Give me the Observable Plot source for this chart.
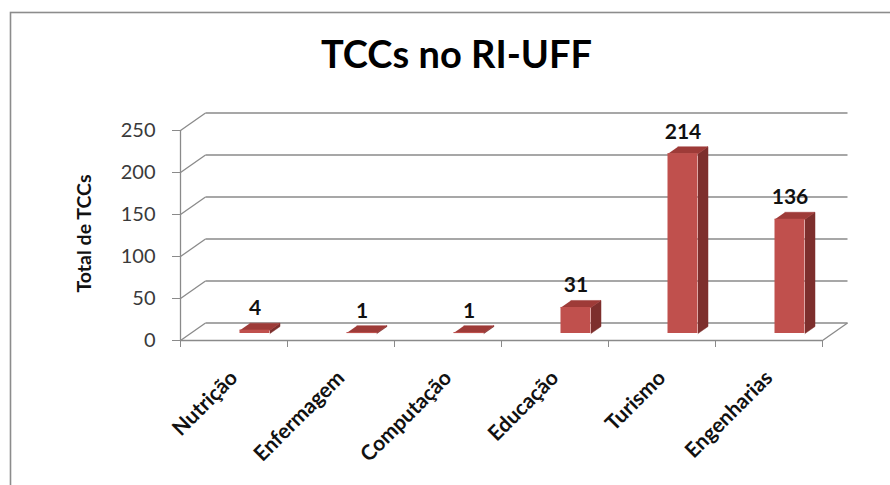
<!DOCTYPE html>
<html>
<head>
<meta charset="utf-8">
<script src="https://cdn.jsdelivr.net/npm/d3@7"></script>
<script src="https://cdn.jsdelivr.net/npm/@observablehq/plot@0.6"></script>
<style>
  html, body { margin: 0; padding: 0; background: #fff; }
  #chart svg { display: block; overflow: hidden; }
</style>
</head>
<body>
<div id="chart"></div>
<script>
// ---- data ----
const categories = ["Nutrição", "Enfermagem", "Computação", "Educação", "Turismo", "Engenharias"];
const values = [4, 1, 1, 31, 214, 136];
const yTicks = [0, 50, 100, 150, 200, 250];
const title = "TCCs no RI-UFF";
const yLabel = "Total de TCCs";

// ---- layout (pixels) ----
const W = 890, H = 485;
const mL = 180, mR = 68, mT = 130, mB = 145;
const n = categories.length;
const yMax = 250;
const pxX = (W - mL - mR) / n;         // px per x unit
const pxY = (H - mT - mB) / yMax;      // px per y unit
const ux = p => p / pxX;               // pixel -> x data units
const uy = p => p / pxY;               // pixel -> y data units

const wallDx = ux(25), wallDy = uy(17.5);  // back-wall depth
const faceL = ux(6), faceR = ux(36);       // bar front face relative to band center
const barDx = ux(10), barDy = uy(7);       // bar depth
const barLift = -7;                        // bar base above front floor edge (px)

const data = categories.map((c, i) => ({i, c, v: values[i]}));

const sidePts = data.flatMap(d => {
  const xr = d.i + 0.5 + faceR;
  return [
    {id: d.i, x: xr, y: 0},
    {id: d.i, x: xr + barDx, y: barDy},
    {id: d.i, x: xr + barDx, y: d.v + barDy},
    {id: d.i, x: xr, y: d.v}
  ];
});
const topPts = data.flatMap(d => {
  const xl = d.i + 0.5 + faceL, xr = d.i + 0.5 + faceR;
  return [
    {id: d.i, x: xl, y: d.v},
    {id: d.i, x: xr, y: d.v},
    {id: d.i, x: xr + barDx, y: d.v + barDy},
    {id: d.i, x: xl + barDx, y: d.v + barDy}
  ];
});

const grid = "#8a8a8a";
const font = "Lato, 'Open Sans', sans-serif";

const plot = Plot.plot({
  width: W, height: H,
  marginLeft: mL, marginRight: mR, marginTop: mT, marginBottom: mB,
  style: {fontFamily: font, background: "#fff", overflow: "hidden"},
  x: {type: "linear", domain: [0, n], axis: null},
  y: {type: "linear", domain: [0, yMax], axis: null},
  marks: [
    // chart border (top and left visible)
    Plot.frame({stroke: "#8c8c8c", strokeWidth: 1.6,
      insetTop: 12 - mT, insetLeft: 10 - mL, insetRight: -(mR + 20), insetBottom: -(mB + 20)}),
    // left wall diagonals
    Plot.link(yTicks, {x1: 0, y1: d => d, x2: wallDx, y2: d => d + wallDy, stroke: grid, strokeWidth: 1.3}),
    // back wall gridlines
    Plot.link(yTicks, {x1: wallDx, x2: n + wallDx, y1: d => d + wallDy, y2: d => d + wallDy, stroke: grid, strokeWidth: 1.3}),
    // floor right edge
    Plot.link([0], {x1: n, y1: 0, x2: n + wallDx, y2: wallDy, stroke: grid, strokeWidth: 1.3}),
    // front axes
    Plot.ruleX([0], {y1: 0, y2: yMax, stroke: grid, strokeWidth: 1.3}),
    Plot.ruleY([0], {x1: 0, x2: n, stroke: grid, strokeWidth: 1.3}),
    Plot.axisY(yTicks, {tickSize: 8, tickPadding: 17, fontSize: 20, stroke: grid, fill: "#3a3a3a", label: null}),
    Plot.axisX(d3.range(n + 1), {tickSize: 7, tickFormat: () => "", stroke: grid, label: null}),
    // bars
    Plot.line(sidePts, {x: "x", y: "y", z: "id", fill: "#7d2f2d", stroke: "#7d2f2d", strokeWidth: 0.5, dy: barLift}),
    Plot.line(topPts, {x: "x", y: "y", z: "id", fill: "#9e3b38", stroke: "#9e3b38", strokeWidth: 0.5, dy: barLift}),
    Plot.rect(data, {x1: d => d.i + 0.5 + faceL, x2: d => d.i + 0.5 + faceR, y1: 0, y2: "v", fill: "#c0504d", dy: barLift}),
    // value labels
    Plot.text(data, {x: d => d.i + 0.5 + (faceL + faceR) / 2, y: "v", text: d => String(d.v),
      lineAnchor: "bottom", dy: barLift - 15, fontSize: 21, fontWeight: "bold", fill: "#111"}),
    // category labels
    Plot.text(data, {x: d => d.i + 0.5, y: 0, text: "c", rotate: -45, textAnchor: "end", lineAnchor: "middle",
      dx: 0, dy: 34, fontSize: 21, fontWeight: "bold", fill: "#111"}),
    // y label
    Plot.text([yLabel], {frameAnchor: "left", rotate: -90, textAnchor: "middle", lineAnchor: "middle",
      dx: 84 - mL, dy: -2, fontSize: 19.5, fontWeight: "bold", fill: "#111"}),
    // title
    Plot.text([title], {frameAnchor: "top", textAnchor: "middle", dx: 456 - (mL + (W - mL - mR) / 2), dy: 67 - mT, lineAnchor: "bottom",
      fontSize: 38, fontWeight: "bold", fill: "#000"})
  ]
});
document.getElementById("chart").appendChild(plot);
</script>
</body>
</html>
